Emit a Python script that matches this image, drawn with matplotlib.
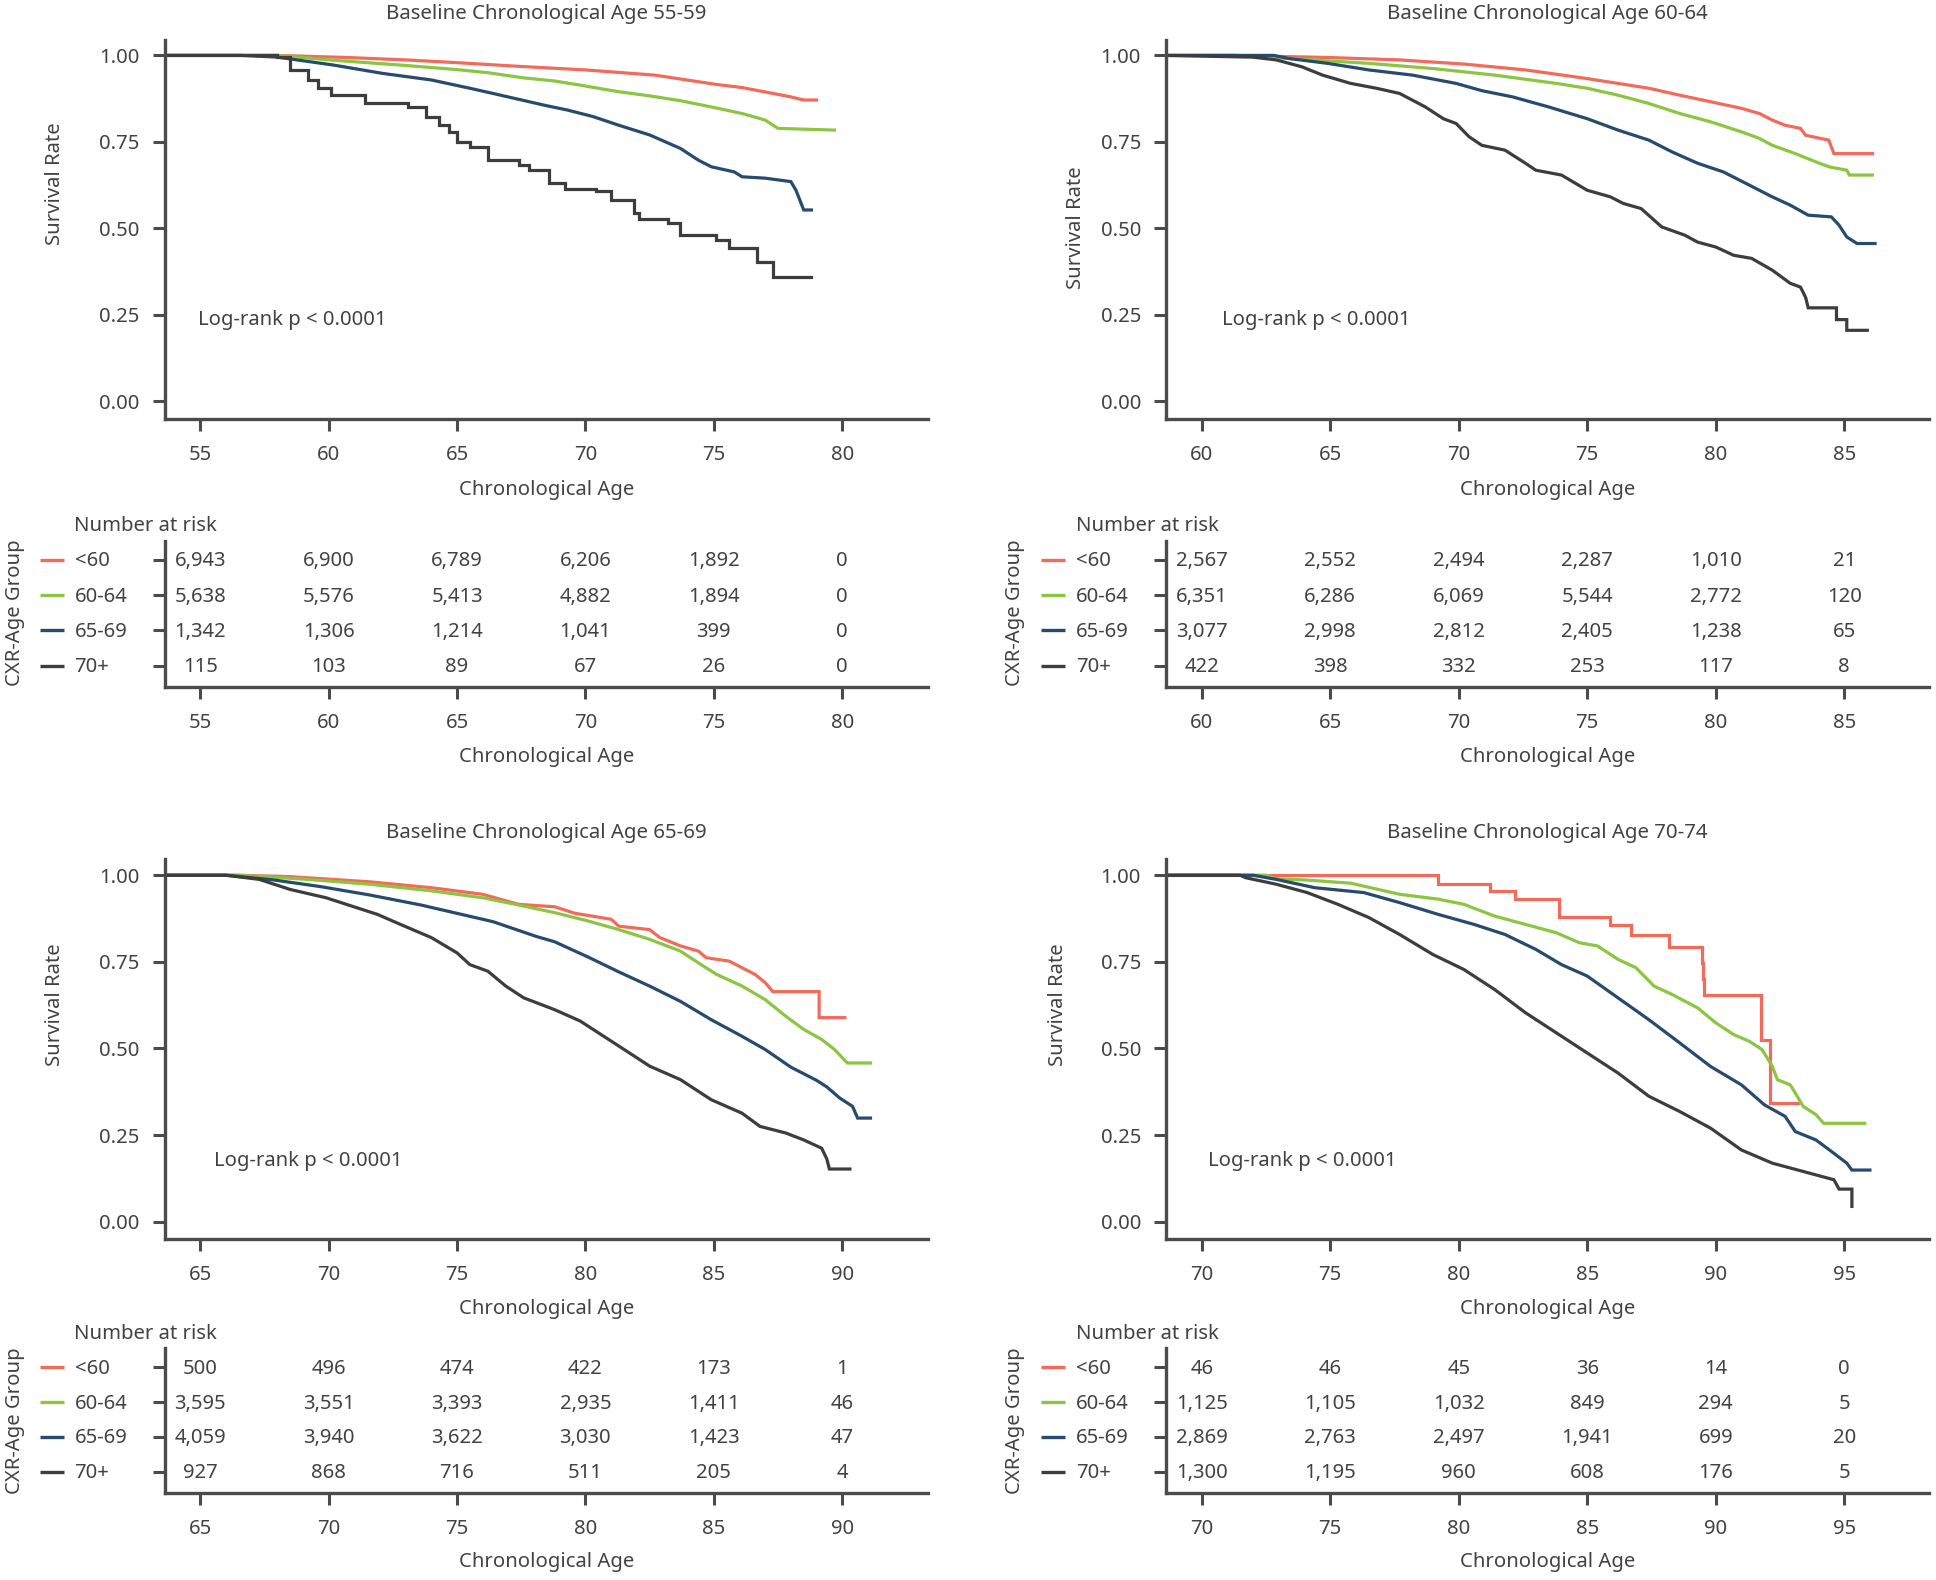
import matplotlib
matplotlib.use("Agg")
import matplotlib.pyplot as plt
import matplotlib.transforms as mtransforms

plt.rcParams['font.family'] = ['Noto Sans', 'DejaVu Sans']

# ------------------------------------------------------------------ data
groups = ['<60', '60-64', '65-69', '70+']
panel_titles = ['Baseline Chronological Age 55-59', 'Baseline Chronological Age 60-64',
                'Baseline Chronological Age 65-69', 'Baseline Chronological Age 70-74']
xticks_5559 = [55, 60, 65, 70, 75, 80]
xticks_6064 = [60, 65, 70, 75, 80, 85]
xticks_6569 = [65, 70, 75, 80, 85, 90]
xticks_7074 = [70, 75, 80, 85, 90, 95]
yticks = [0.00, 0.25, 0.50, 0.75, 1.00]

# --- Panel 55-59
p1_lt60_age = [53.5, 58.0, 60.7, 63.0, 65.0, 67.5, 70.0, 72.7, 75.1, 76.1, 77.3, 78.0, 78.5, 79.0]
p1_lt60_surv = [1.0, 1.0, 0.994, 0.987, 0.979, 0.968, 0.958, 0.943, 0.916, 0.907, 0.890, 0.880, 0.871, 0.871]
p1_6064_age = [53.5, 58.0, 60.2, 62.8, 65.0, 66.2, 67.6, 68.8, 69.8, 70.5, 71.3, 72.5, 73.7, 74.9, 76.1,
               77.0, 77.5, 79.7]
p1_6064_surv = [1.0, 1.0, 0.986, 0.972, 0.959, 0.950, 0.935, 0.926, 0.914, 0.905, 0.895, 0.883, 0.869, 0.851,
                0.832, 0.813, 0.789, 0.784]
p1_6569_age = [53.5, 56.6, 58.0, 60.2, 62.1, 64.0, 65.5, 66.4, 67.4, 68.4, 69.3, 70.3, 71.3, 72.5, 73.7, 74.4,
               74.9, 75.8, 76.1, 77.0, 78.0, 78.2, 78.5, 78.8]
p1_6569_surv = [1.0, 1.0, 0.995, 0.972, 0.948, 0.929, 0.905, 0.890, 0.873, 0.856, 0.842, 0.823, 0.798, 0.770,
                0.731, 0.697, 0.678, 0.663, 0.649, 0.645, 0.635, 0.610, 0.553, 0.553]
p1_70_age = [53.5, 58.0, 58.5, 59.2, 59.6, 60.1, 61.4, 63.1, 63.8, 64.3, 64.7, 65.0, 65.5, 66.2, 67.4, 67.8,
             68.6, 69.2, 70.4, 71.0, 71.9, 72.1, 73.2, 73.7, 75.1, 75.6, 76.7, 77.3, 78.8]
p1_70_surv = [1.0, 0.994, 0.958, 0.929, 0.905, 0.885, 0.861, 0.851, 0.823, 0.798, 0.779, 0.750, 0.736, 0.697,
              0.683, 0.668, 0.630, 0.615, 0.608, 0.581, 0.543, 0.528, 0.514, 0.480, 0.466, 0.442, 0.403, 0.360,
              0.360]

# --- Panel 60-64
p2_lt60_age = [58.5, 61.2, 64.9, 67.7, 70.2, 72.6, 75.0, 77.4, 78.6, 79.8, 81.0, 81.7, 82.2, 82.7, 83.3, 83.5,
               84.4, 84.6, 86.1]
p2_lt60_surv = [1.0, 1.0, 0.994, 0.987, 0.975, 0.958, 0.933, 0.905, 0.885, 0.866, 0.847, 0.832, 0.813, 0.798,
                0.789, 0.769, 0.755, 0.716, 0.716]
p2_6064_age = [58.5, 61.2, 64.1, 66.5, 69.0, 71.4, 73.8, 75.0, 76.2, 77.4, 78.6, 79.8, 81.0, 81.7, 82.2, 83.1,
               83.9, 84.4, 85.1, 85.2, 86.1]
p2_6064_surv = [1.0, 1.0, 0.988, 0.977, 0.962, 0.943, 0.919, 0.905, 0.885, 0.861, 0.832, 0.808, 0.779, 0.760,
                0.740, 0.716, 0.692, 0.678, 0.668, 0.654, 0.654]
p2_6569_age = [58.5, 62.8, 63.4, 64.9, 66.5, 68.2, 69.9, 70.9, 72.1, 73.5, 75.0, 76.2, 77.4, 78.3, 79.3, 80.3,
               81.2, 82.2, 82.9, 83.6, 84.5, 84.8, 85.1, 85.5, 86.2]
p2_6569_surv = [1.0, 1.0, 0.991, 0.977, 0.958, 0.943, 0.919, 0.898, 0.880, 0.851, 0.817, 0.784, 0.755, 0.721,
                0.688, 0.663, 0.629, 0.591, 0.567, 0.538, 0.533, 0.509, 0.475, 0.456, 0.456]
p2_70_age = [58.5, 62.0, 62.9, 63.9, 64.7, 65.8, 66.8, 67.7, 68.7, 69.4, 69.9, 70.4, 70.9, 71.8, 72.6, 73.0,
             74.0, 75.0, 75.9, 76.4, 77.1, 77.9, 78.8, 79.3, 80.0, 80.7, 81.4, 82.2, 82.9, 83.3, 83.5, 83.6,
             84.7, 84.7, 85.1, 85.1, 85.9]
p2_70_surv = [1.0, 0.995, 0.987, 0.967, 0.943, 0.919, 0.905, 0.890, 0.851, 0.817, 0.803, 0.765, 0.740, 0.726,
              0.688, 0.668, 0.654, 0.610, 0.591, 0.572, 0.557, 0.504, 0.480, 0.460, 0.446, 0.422, 0.413, 0.379,
              0.341, 0.330, 0.300, 0.270, 0.270, 0.236, 0.236, 0.205, 0.205]

# --- Panel 65-69
p3_lt60_age = [63.5, 66.5, 68.5, 71.6, 74.0, 76.0, 77.4, 78.8, 79.6, 81.0, 81.3, 82.5, 82.9, 83.7, 84.4, 84.7,
               85.6, 86.1, 86.6, 87.0, 87.3, 89.1, 89.1, 90.1]
p3_lt60_surv = [1.0, 1.0, 0.996, 0.981, 0.964, 0.945, 0.916, 0.909, 0.890, 0.873, 0.853, 0.843, 0.820, 0.796,
                0.781, 0.762, 0.752, 0.733, 0.714, 0.690, 0.664, 0.664, 0.589, 0.589]
p3_6064_age = [63.5, 66.5, 69.2, 71.6, 74.0, 76.0, 77.6, 78.8, 80.1, 81.3, 82.5, 83.7, 84.4, 85.1, 86.1, 87.0,
               87.8, 88.5, 89.2, 89.7, 90.2, 91.1]
p3_6064_surv = [1.0, 1.0, 0.988, 0.974, 0.955, 0.935, 0.911, 0.892, 0.868, 0.843, 0.815, 0.781, 0.747, 0.714,
                0.680, 0.641, 0.593, 0.555, 0.526, 0.497, 0.458, 0.458]
p3_6569_age = [63.5, 66.0, 67.8, 69.7, 71.6, 73.6, 75.0, 76.4, 78.1, 78.8, 80.1, 81.3, 82.5, 83.7, 84.9, 86.1,
               87.0, 88.0, 89.0, 89.4, 89.9, 90.4, 90.6, 91.1]
p3_6569_surv = [1.0, 1.0, 0.987, 0.967, 0.943, 0.914, 0.890, 0.866, 0.823, 0.808, 0.764, 0.721, 0.680, 0.636,
                0.583, 0.535, 0.497, 0.446, 0.408, 0.389, 0.357, 0.333, 0.299, 0.299]
p3_70_age = [63.5, 66.0, 67.3, 68.5, 69.9, 70.9, 71.9, 72.8, 74.0, 75.0, 75.5, 76.2, 76.9, 77.6, 78.8, 79.8,
             80.3, 81.3, 82.5, 83.7, 84.9, 86.1, 86.8, 87.8, 88.5, 89.2, 89.4, 89.5, 90.3]
p3_70_surv = [1.0, 1.0, 0.988, 0.959, 0.935, 0.911, 0.887, 0.858, 0.820, 0.776, 0.742, 0.723, 0.680, 0.646,
              0.612, 0.579, 0.555, 0.507, 0.449, 0.410, 0.352, 0.313, 0.275, 0.256, 0.236, 0.212, 0.181, 0.152,
              0.152]

# --- Panel 70-74
p4_lt60_age = [68.5, 79.2, 81.2, 82.2, 83.9, 85.9, 86.7, 88.2, 89.45, 89.5, 89.55, 91.75, 92.1, 93.2]
p4_lt60_surv = [1.0, 0.976, 0.955, 0.932, 0.880, 0.857, 0.828, 0.794, 0.747, 0.700, 0.654, 0.524, 0.344, 0.344]
p4_6064_age = [68.5, 72.5, 72.9, 74.1, 75.8, 77.7, 79.2, 80.2, 81.4, 82.6, 83.8, 84.7, 85.4, 86.2, 86.9, 87.6,
               88.3, 89.3, 90.0, 90.7, 91.3, 91.8, 92.2, 92.4, 92.9, 93.1, 93.4, 93.9, 94.2, 95.8]
p4_6064_surv = [1.0, 1.0, 0.990, 0.986, 0.977, 0.945, 0.931, 0.916, 0.882, 0.858, 0.834, 0.805, 0.796, 0.757,
                0.733, 0.680, 0.656, 0.617, 0.574, 0.540, 0.521, 0.497, 0.449, 0.410, 0.395, 0.371, 0.333, 0.309,
                0.284, 0.284]
p4_6569_age = [68.5, 72.0, 72.9, 74.4, 76.3, 77.7, 79.2, 80.6, 81.8, 83.0, 84.0, 85.0, 86.2, 87.4, 88.6, 89.8,
               91.0, 91.9, 92.7, 93.1, 93.9, 94.5, 95.1, 95.3, 96.0]
p4_6569_surv = [1.0, 1.0, 0.988, 0.964, 0.950, 0.921, 0.887, 0.858, 0.829, 0.786, 0.742, 0.709, 0.646, 0.583,
                0.516, 0.448, 0.395, 0.337, 0.304, 0.260, 0.236, 0.203, 0.169, 0.149, 0.149]
p4_70_age = [68.5, 71.5, 71.7, 72.9, 74.1, 75.3, 76.5, 77.7, 79.0, 80.2, 81.4, 82.6, 83.8, 85.0, 86.2, 87.4,
             88.6, 89.8, 91.0, 92.2, 93.4, 94.6, 94.8, 95.3, 95.3]
p4_70_surv = [1.0, 1.0, 0.993, 0.974, 0.950, 0.916, 0.878, 0.829, 0.771, 0.728, 0.670, 0.603, 0.545, 0.487,
              0.429, 0.362, 0.318, 0.270, 0.207, 0.169, 0.145, 0.121, 0.094, 0.094, 0.044]

# --- Numbers at risk (rows: <60, 60-64, 65-69, 70+)
risk_5559_lt60 = ['6,943', '6,900', '6,789', '6,206', '1,892', '0']
risk_5559_6064 = ['5,638', '5,576', '5,413', '4,882', '1,894', '0']
risk_5559_6569 = ['1,342', '1,306', '1,214', '1,041', '399', '0']
risk_5559_70 = ['115', '103', '89', '67', '26', '0']
risk_6064_lt60 = ['2,567', '2,552', '2,494', '2,287', '1,010', '21']
risk_6064_6064 = ['6,351', '6,286', '6,069', '5,544', '2,772', '120']
risk_6064_6569 = ['3,077', '2,998', '2,812', '2,405', '1,238', '65']
risk_6064_70 = ['422', '398', '332', '253', '117', '8']
risk_6569_lt60 = ['500', '496', '474', '422', '173', '1']
risk_6569_6064 = ['3,595', '3,551', '3,393', '2,935', '1,411', '46']
risk_6569_6569 = ['4,059', '3,940', '3,622', '3,030', '1,423', '47']
risk_6569_70 = ['927', '868', '716', '511', '205', '4']
risk_7074_lt60 = ['46', '46', '45', '36', '14', '0']
risk_7074_6064 = ['1,125', '1,105', '1,032', '849', '294', '5']
risk_7074_6569 = ['2,869', '2,763', '2,497', '1,941', '699', '20']
risk_7074_70 = ['1,300', '1,195', '960', '608', '176', '5']

# ------------------------------------------------------------------ style / layout
W, H = 1936, 1580
TEXT = '#424242'
SPINE = '#4b4b4b'
colors = ['#f36a5a', '#8cc540', '#274a6d', '#3d3d3d']
FS = 14.6
FS_TITLE = 14.7

panels = [
    dict(title=panel_titles[0], xticks=xticks_5559, xlim=(53.61, 83.34),
         curves=[(p1_lt60_age, p1_lt60_surv), (p1_6064_age, p1_6064_surv),
                 (p1_6569_age, p1_6569_surv), (p1_70_age, p1_70_surv)],
         steps=[False, False, False, True],
         risk=[risk_5559_lt60, risk_5559_6064, risk_5559_6569, risk_5559_70],
         main=(164.5, 39.5, 928, 418.5), table=(164.5, 540.7, 928, 686.7),
         title_y=14, ylab=(55.5, 183.5), cxr=(15, 612.5), xlab_main=490, xlab_tab=757,
         logrank=(54.9, 0.235)),
    dict(title=panel_titles[1], xticks=xticks_6064, xlim=(58.61, 88.30),
         curves=[(p2_lt60_age, p2_lt60_surv), (p2_6064_age, p2_6064_surv),
                 (p2_6569_age, p2_6569_surv), (p2_70_age, p2_70_surv)],
         steps=[False, False, False, False],
         risk=[risk_6064_lt60, risk_6064_6064, risk_6064_6569, risk_6064_70],
         main=(1166, 39.5, 1929, 418.5), table=(1166, 540.7, 1929, 686.7),
         title_y=14, ylab=(1076, 228), cxr=(1015, 612.5), xlab_main=490, xlab_tab=757,
         logrank=(60.77, 0.235)),
    dict(title=panel_titles[2], xticks=xticks_6569, xlim=(63.61, 93.34),
         curves=[(p3_lt60_age, p3_lt60_surv), (p3_6064_age, p3_6064_surv),
                 (p3_6569_age, p3_6569_surv), (p3_70_age, p3_70_surv)],
         steps=[False, False, False, False],
         risk=[risk_6569_lt60, risk_6569_6064, risk_6569_6569, risk_6569_70],
         main=(164.5, 859.3, 928, 1239), table=(164.5, 1348.3, 928, 1492.7),
         title_y=833, ylab=(55.5, 1005), cxr=(15, 1421), xlab_main=1309, xlab_tab=1562,
         logrank=(65.52, 0.174)),
    dict(title=panel_titles[3], xticks=xticks_7074, xlim=(68.61, 98.30),
         curves=[(p4_lt60_age, p4_lt60_surv), (p4_6064_age, p4_6064_surv),
                 (p4_6569_age, p4_6569_surv), (p4_70_age, p4_70_surv)],
         steps=[True, False, False, False],
         risk=[risk_7074_lt60, risk_7074_6064, risk_7074_6569, risk_7074_70],
         main=(1166, 859.3, 1929, 1239), table=(1166, 1348.3, 1929, 1492.7),
         title_y=833, ylab=(1058, 1005), cxr=(1015, 1421), xlab_main=1309, xlab_tab=1562,
         logrank=(70.24, 0.174)),
]

fig = plt.figure(figsize=(W / 100, H / 100), dpi=100)


def rect(box):
    l, t, r, b = box
    return [l / W, 1 - b / H, (r - l) / W, (b - t) / H]


def style_axes(ax):
    for s in ['top', 'right']:
        ax.spines[s].set_visible(False)
    for s in ['left', 'bottom']:
        ax.spines[s].set_linewidth(2.4)
        ax.spines[s].set_color(SPINE)
        ax.spines[s].set_capstyle('projecting')
    ax.tick_params(axis='both', direction='out', length=8.5, width=2.2, color=SPINE,
                   labelsize=FS, labelcolor=TEXT)
    ax.tick_params(axis='x', pad=10.5)
    ax.tick_params(axis='y', pad=9.5)


for p in panels:
    # ---------------- KM plot
    ax = fig.add_axes(rect(p['main']))
    style_axes(ax)
    for (ages, surv), col, st in zip(p['curves'], colors, p['steps']):
        ax.plot(ages, surv, color=col, lw=2.3, drawstyle='steps-post' if st else 'default',
                solid_joinstyle='miter')
    ax.set_xlim(*p['xlim'])
    ax.set_ylim(-0.050, 1.046)
    ax.set_xticks(p['xticks'])
    ax.set_yticks(yticks)
    ax.set_yticklabels([f'{v:.2f}' for v in yticks])
    ax.text(p['logrank'][0], p['logrank'][1], 'Log-rank p < 0.0001', ha='left', va='center',
            fontsize=FS, color=TEXT)
    cx = (p['main'][0] + p['main'][2]) / 2
    fig.text(cx / W, 1 - p['title_y'] / H, p['title'], ha='center', va='center',
             fontsize=FS_TITLE, color=TEXT)
    fig.text(cx / W, 1 - p['xlab_main'] / H, 'Chronological Age', ha='center', va='center',
             fontsize=FS, color=TEXT)
    fig.text(p['ylab'][0] / W, 1 - p['ylab'][1] / H, 'Survival Rate', ha='center', va='center',
             rotation=90, fontsize=FS, color=TEXT)

    # ---------------- risk table
    axt = fig.add_axes(rect(p['table']))
    style_axes(axt)
    axt.set_xlim(*p['xlim'])
    axt.set_ylim(3.6, -0.55)
    axt.set_xticks(p['xticks'])
    axt.set_yticks(range(len(groups)))
    axt.set_yticklabels([])
    for i, row in enumerate(p['risk']):
        for xv, val in zip(p['xticks'], row):
            axt.text(xv, i + 0.04, val, ha='center', va='center', fontsize=FS, color=TEXT)
    width_px = p['table'][2] - p['table'][0]
    trans = mtransforms.blended_transform_factory(axt.transAxes, axt.transData)
    for i, (g, col) in enumerate(zip(groups, colors)):
        axt.plot([-125 / width_px, -101 / width_px], [i, i], color=col, lw=2.4,
                 transform=trans, clip_on=False, solid_capstyle='butt')
        axt.text(-90 / width_px, i + 0.04, g, transform=trans, ha='left', va='center',
                 fontsize=FS, color=TEXT)
    axt.text(-90 / width_px, -0.97, 'Number at risk', transform=trans, ha='left', va='center',
             fontsize=FS, color=TEXT)
    fig.text(cx / W, 1 - p['xlab_tab'] / H, 'Chronological Age', ha='center', va='center',
             fontsize=FS, color=TEXT)
    fig.text(p['cxr'][0] / W, 1 - p['cxr'][1] / H, 'CXR-Age Group', ha='center', va='center',
             rotation=90, fontsize=FS, color=TEXT)

fig.savefig('out.png', dpi=100)
